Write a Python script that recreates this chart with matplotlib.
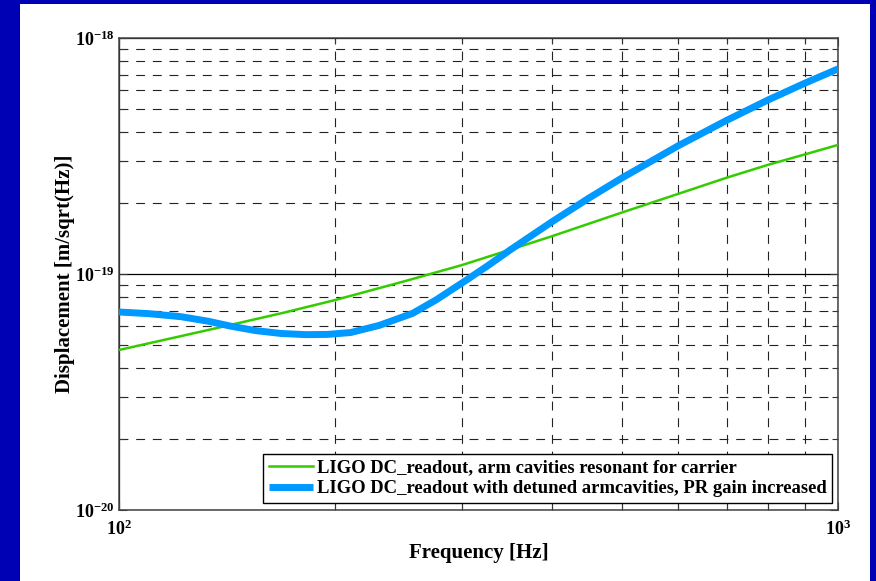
import matplotlib
matplotlib.use("Agg")
import matplotlib.pyplot as plt
import numpy as np
from matplotlib.patches import Rectangle
from matplotlib.ticker import LogLocator, NullFormatter, FixedLocator, FixedFormatter

# ---- data ----
freq_green = [100, 120, 140, 170, 200, 250, 300, 350, 400, 500, 600, 700, 800, 900, 1000]
disp_green_log = [-19.322, -19.268, -19.222, -19.163, -19.110, -19.030, -18.962, -18.897,
                  -18.840, -18.740, -18.660, -18.592, -18.537, -18.493, -18.453]

freq_blue = [100, 110, 122, 133, 143, 155, 168, 182, 195, 210, 230, 256, 276, 300, 325,
             350, 400, 450, 500, 600, 700, 800, 900, 1000]
disp_blue_log = [-19.161, -19.168, -19.181, -19.200, -19.221, -19.240, -19.252, -19.257,
                 -19.256, -19.248, -19.218, -19.167, -19.110, -19.038, -18.967, -18.898,
                 -18.779, -18.679, -18.594, -18.456, -18.349, -18.262, -18.191, -18.131]

label_green = "LIGO DC_readout, arm cavities resonant for carrier"
label_blue = "LIGO DC_readout with detuned armcavities, PR gain increased"
xlabel = "Frequency [Hz]"
ylabel = "Displacement [m/sqrt(Hz)]"
xticks = [100, 1000]
xtick_labels = [r"$\mathrm{10^{2}}$", r"$\mathrm{10^{3}}$"]
yticks = [1e-20, 1e-19, 1e-18]
ytick_labels = [r"$\mathrm{10^{-20}}$", r"$\mathrm{10^{-19}}$", r"$\mathrm{10^{-18}}$"]

plt.rcParams['font.family'] = ['Liberation Serif', 'DejaVu Serif']
plt.rcParams['font.weight'] = 'bold'
plt.rcParams['mathtext.fontset'] = 'custom'
plt.rcParams['mathtext.rm'] = 'Liberation Serif:bold'
plt.rcParams['mathtext.it'] = 'Liberation Serif:bold:italic'
plt.rcParams['mathtext.bf'] = 'Liberation Serif:bold'

W, H = 876, 581
fig = plt.figure(figsize=(W / 100, H / 100), dpi=100, facecolor='#0000B4')
fig.patches.append(Rectangle((20 / W, 0), 850 / W, 577 / H, transform=fig.transFigure,
                             facecolor='white', edgecolor='none', zorder=-10))

L, R, T, B = 119, 838, 38, 510
ax = fig.add_axes([L / W, 1 - B / H, (R - L) / W, (B - T) / H])
ax.set_zorder(5)
ax.set_xscale('log')
ax.set_yscale('log')
ax.set_xlim(100, 1000)
ax.set_ylim(1e-20, 1e-18)

ax.plot(freq_green, 10 ** np.array(disp_green_log), color='#33CC00', lw=1.8, label=label_green, zorder=3)
ax.plot(freq_blue, 10 ** np.array(disp_blue_log), color='#0099FF', lw=5, label=label_blue, zorder=4,
        solid_capstyle='butt', solid_joinstyle='round')

ax.xaxis.set_major_locator(FixedLocator(xticks))
ax.xaxis.set_major_formatter(FixedFormatter(xtick_labels))
ax.yaxis.set_major_locator(FixedLocator(yticks))
ax.yaxis.set_major_formatter(FixedFormatter(ytick_labels))
ax.xaxis.set_minor_locator(LogLocator(base=10, subs=np.arange(2, 10)))
ax.yaxis.set_minor_locator(LogLocator(base=10, subs=np.arange(2, 10)))
ax.xaxis.set_minor_formatter(NullFormatter())
ax.yaxis.set_minor_formatter(NullFormatter())

ax.grid(True, which='major', color='black', lw=0.9, ls='-')
ax.grid(True, which='minor', color='#222222', lw=0.8, ls=(0, (8, 7)))
ax.tick_params(which='both', direction='in', top=True, right=True, color='#333333', width=0.8)
ax.tick_params(which='major', length=6, labelsize=13)
ax.tick_params(axis='x', which='major', pad=7)
ax.tick_params(axis='y', which='major', pad=3)
ax.tick_params(which='minor', length=4)
for s in ax.spines.values():
    s.set_color('#444444')
    s.set_linewidth(1.1)

ax.set_xlabel(xlabel, fontsize=15, fontweight='bold', labelpad=3)
ax.set_ylabel(ylabel, fontsize=15, fontweight='bold', labelpad=0)

leg = ax.legend(loc='lower right', bbox_to_anchor=(0.992, 0.015), borderaxespad=0,
                fancybox=False, framealpha=1, edgecolor='black', fontsize=13.4,
                handlelength=2.4, handletextpad=0.2, labelspacing=0.22, borderpad=0.3)
leg.get_frame().set_linewidth(1.0)
for t in leg.get_texts():
    t.set_fontweight('bold')

fig.savefig('out.png', dpi=100, facecolor=fig.get_facecolor())
